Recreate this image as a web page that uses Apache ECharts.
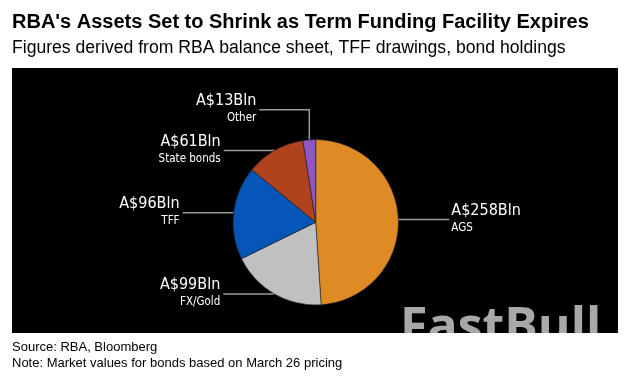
<!DOCTYPE html>
<html>
<head>
<meta charset="utf-8">
<script src="https://cdn.jsdelivr.net/npm/echarts@6/dist/echarts.min.js"></script>
<style>
html,body{margin:0;padding:0;background:#fff;}
#chart{width:642px;height:379px;}
</style>
</head>
<body>
<div id="chart"></div>
<script>
// ---- data ----
const categories = ['AGS', 'FX/Gold', 'TFF', 'State bonds', 'Other'];
const values = [258, 99, 96, 61, 13];
const valuePrefix = 'A$';
const valueSuffix = 'Bln';

// ---- styles ----
const palette = ['#de8a25', '#c0c0c0', '#0556b8', '#b0421e', '#9157c1'];
const labelFont = '"DejaVu Sans Condensed", "DejaVu Sans", sans-serif';
const textFont = '"Liberation Sans", Arial, sans-serif';

const chart = echarts.init(document.getElementById('chart'), null, {renderer: 'canvas'});

const option = {
  animation: false,
  backgroundColor: '#fff',
  graphic: [
    {
      type: 'rect', z: -10, silent: true,
      shape: {x: 12, y: 68, width: 606, height: 265},
      style: {fill: '#000'}
    },
    {
      type: 'text', z: 100, silent: true,
      x: 400, y: 304,
      style: {
        text: 'FastBull',
        font: 'bold 50px "Open Sans", sans-serif',
        fill: 'rgba(255,255,255,0.66)',
        verticalAlign: 'top',
        shadowBlur: 7, shadowColor: 'rgba(0,0,0,0.35)', shadowOffsetY: 3
      }
    }
  ],
  title: [
    {
      text: "RBA's Assets Set to Shrink as Term Funding Facility Expires",
      left: 12, top: 10, padding: 0,
      textStyle: {fontSize: 20, fontWeight: 'bold', fontFamily: textFont, color: '#000', lineHeight: 24}
    },
    {
      text: 'Figures derived from RBA balance sheet, TFF drawings, bond holdings',
      left: 12, top: 36, padding: 0,
      textStyle: {fontSize: 17.6, fontWeight: 'normal', fontFamily: textFont, color: '#000', lineHeight: 24}
    },
    {
      text: 'Source: RBA, Bloomberg',
      left: 12, top: 339, padding: 0,
      textStyle: {fontSize: 13, fontWeight: 'normal', fontFamily: textFont, color: '#000', lineHeight: 16}
    },
    {
      text: 'Note: Market values for bonds based on March 26 pricing',
      left: 12, top: 355, padding: 0,
      textStyle: {fontSize: 13, fontWeight: 'normal', fontFamily: textFont, color: '#000', lineHeight: 16}
    }
  ],
  series: [{
    type: 'pie',
    center: [315.7, 222.3],
    radius: 82.7,
    startAngle: 90,
    clockwise: true,
    avoidLabelOverlap: false,
    emphasis: {disabled: true},
    itemStyle: {borderColor: '#222', borderWidth: 0.6},
    data: categories.map((c, i) => ({name: c, value: values[i], itemStyle: {color: palette[i]}})),
    label: {
      show: true,
      position: 'outside',
      formatter: p => '{v|' + valuePrefix + p.value + valueSuffix + '}\n{n|' + p.name + '}',
      rich: {
        v: {fontSize: 16, lineHeight: 17, color: '#fff', fontFamily: labelFont},
        n: {fontSize: 11.5, lineHeight: 18, color: '#fff', fontFamily: labelFont}
      }
    },
    labelLine: {
      show: true, length: 0, length2: 51,
      lineStyle: {color: '#9a9a9a', width: 1.5}
    },
    labelLayout: function (params) {
      const pts = params.labelLinePoints;
      if (!pts) return {};
      const p0 = pts[0];
      const last = pts[pts.length - 1];
      const goLeft = last[0] < p0[0] || params.dataIndex === categories.length - 1;
      let line;
      if (params.dataIndex === categories.length - 1) {
        const up = [p0[0], p0[1] - 30];
        line = [p0, up, [up[0] - 50, up[1]]];
      } else {
        const end = [p0[0] + (goLeft ? -51 : 51), p0[1]];
        line = [p0, p0, end];
      }
      const e = line[2];
      return {
        x: e[0] + (goLeft ? -3 : 2),
        y: e[1],
        align: goLeft ? 'right' : 'left',
        verticalAlign: 'middle',
        labelLinePoints: line
      };
    }
  }]
};
chart.setOption(option);
</script>
</body>
</html>
